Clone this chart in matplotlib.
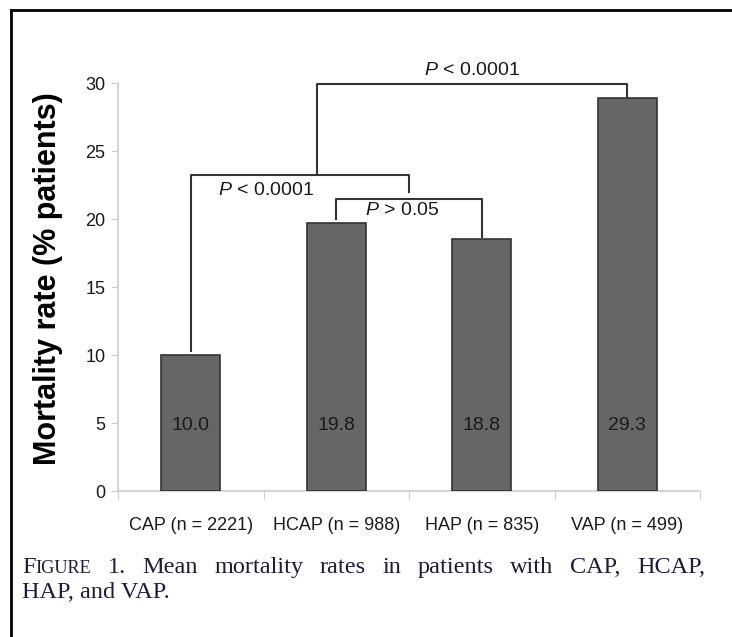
import matplotlib
matplotlib.use('Agg')
import matplotlib.pyplot as plt
from matplotlib.lines import Line2D

# data
groups = ['CAP (n = 2221)', 'HCAP (n = 988)', 'HAP (n = 835)', 'VAP (n = 499)']
heights = [10.0, 19.7, 18.5, 28.9]
value_labels = ['10.0', '19.8', '18.8', '29.3']
y_ticks = [0, 5, 10, 15, 20, 25, 30]

# brackets: (x_left, x_right, y_left_bottom, y_top, y_right_bottom)
brackets = [
    (0.0, 1.5, 10.3, 23.2, 22.0),
    (1.0, 2.0, 20.0, 21.5, 18.7),
    (0.87, 3.0, 23.2, 29.9, 29.0),
]
p_texts = ['$P$ < 0.0001', '$P$ > 0.05', '$P$ < 0.0001']
p_pos = [(0.52, 22.1), (1.45, 20.6), (1.93, 30.9)]

caption_line1 = ['1.', 'Mean', 'mortality', 'rates', 'in', 'patients', 'with', 'CAP,', 'HCAP,']
caption_line2 = 'HAP, and VAP.'

plt.rcParams['font.family'] = ['Liberation Sans', 'DejaVu Sans']
plt.rcParams['mathtext.fontset'] = 'custom'
plt.rcParams['mathtext.it'] = 'Liberation Sans:italic'
plt.rcParams['mathtext.rm'] = 'Liberation Sans'

fig = plt.figure(figsize=(7.32, 6.37), dpi=100)
ax = fig.add_axes([118 / 732, 1 - 491 / 637, (700 - 118) / 732, (491 - 83) / 637])

x = list(range(len(groups)))
ax.bar(x, heights, width=0.405, color='#666666', edgecolor='#333333', linewidth=1.2, zorder=3)
for xi, lab in zip(x, value_labels):
    ax.text(xi, 4.8, lab, ha='center', va='center', fontsize=14, color='#1a1a1a', zorder=4)

for xl, xr, yl, yt, yr in brackets:
    ax.plot([xl, xl, xr, xr], [yl, yt, yt, yr], color='#333333', linewidth=1.5,
            clip_on=False, zorder=2)
for (px, py), t in zip(p_pos, p_texts):
    ax.text(px, py, t, ha='center', va='center', fontsize=14, color='#1a1a1a')

ax.set_xlim(-0.5, 3.5)
ax.set_ylim(0, 30)
ax.set_yticks(y_ticks)
ax.set_xticks([-0.5, 0.5, 1.5, 2.5, 3.5])
ax.set_xticklabels([])
ax.set_xticks(x, minor=True)
ax.set_xticklabels(groups, minor=True, fontsize=13, color='#1a1a1a')
ax.tick_params(axis='x', which='minor', length=0, pad=19)
ax.tick_params(axis='x', which='major', length=6, color='#cccccc', direction='out')
ax.tick_params(axis='y', length=5, color='#cccccc', labelsize=13, labelcolor='#1a1a1a', pad=4)
for s in ['top', 'right']:
    ax.spines[s].set_visible(False)
for s in ['left', 'bottom']:
    ax.spines[s].set_color('#cccccc')
    ax.spines[s].set_linewidth(1.2)

fig.text(48 / 732, 1 - 279 / 637, 'Mortality rate (% patients)', rotation=90,
         ha='center', va='center', fontsize=22, fontweight='bold', color='black')

# frame lines (top and left)
fig.add_artist(Line2D([11 / 732, 11 / 732], [0, 1 - 10 / 637], transform=fig.transFigure,
                      color='black', linewidth=2))
fig.add_artist(Line2D([11 / 732, 1], [1 - 10 / 637, 1 - 10 / 637], transform=fig.transFigure,
                      color='black', linewidth=2))

# caption, first line justified between x=22 and x=705
cap_color = '#1c1c3c'
serif = ['Liberation Serif', 'DejaVu Serif']
cap_size = 17.5
y1 = 1 - 573 / 637
y2 = 1 - 598 / 637
fig.canvas.draw()
r = fig.canvas.get_renderer()

t_f = fig.text(22 / 732, y1, 'F', fontsize=cap_size, family=serif, color=cap_color, va='baseline')
x_cur = t_f.get_window_extent(r).x1
t_ig = fig.text(x_cur / 732, y1, 'IGURE', fontsize=cap_size * 0.75, family=serif,
                color=cap_color, va='baseline')
x_cur = t_ig.get_window_extent(r).x1

words = [fig.text(0, y1, w, fontsize=cap_size, family=serif, color=cap_color, va='baseline')
         for w in caption_line1]
widths = [w.get_window_extent(r).width for w in words]
gap = (705 - x_cur - sum(widths)) / len(words)
for w, wd in zip(words, widths):
    x_cur += gap
    w.set_x(x_cur / 732)
    x_cur += wd

fig.text(22 / 732, y2, caption_line2, fontsize=cap_size, family=serif,
         color=cap_color, va='baseline')

fig.savefig('out.png', dpi=100)
